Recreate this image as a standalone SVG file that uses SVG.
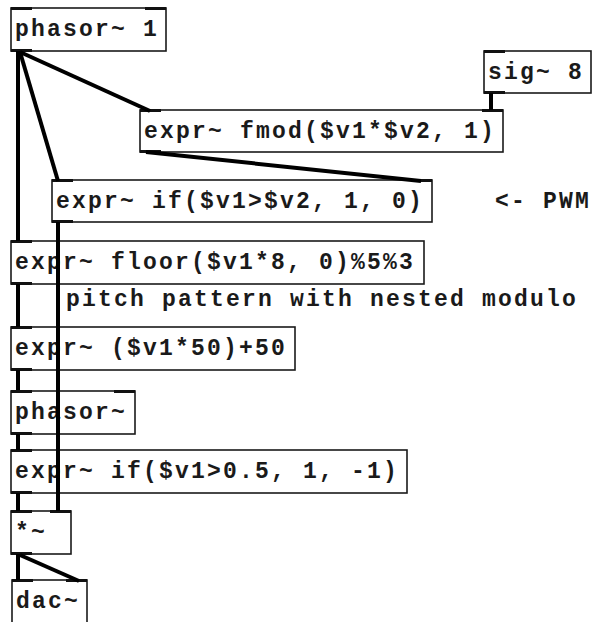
<svg xmlns="http://www.w3.org/2000/svg" width="593" height="622" viewBox="0 0 593 622">
<style>
.box{fill:#fff;stroke:#1a1a1a;stroke-width:1.6}
.io{fill:#111}
.t{font-family:"Liberation Mono","Courier New",monospace;font-weight:bold;font-size:23px;letter-spacing:2.2px;fill:#1a1a1a}
.c{stroke:#000;stroke-width:4;fill:none;stroke-linecap:butt}
</style>
<rect width="593" height="622" fill="#fff"/>
<g id="n_phasor1">
<rect class="box" x="11" y="8" width="155" height="43"/>
<rect class="io" x="11" y="7" width="21" height="3"/><rect class="io" x="145" y="7" width="21" height="3"/>
<rect class="io" x="11" y="49" width="21" height="3"/>
<text class="t" x="15" y="36">phasor~ 1</text>
</g>
<g id="n_sig8">
<rect class="box" x="484" y="51" width="107" height="42"/>
<rect class="io" x="484" y="50" width="21" height="3"/>
<rect class="io" x="484" y="91" width="21" height="3"/>
<text class="t" x="488" y="79">sig~ 8</text>
</g>
<g id="n_fmod">
<rect class="box" x="140" y="110" width="363" height="42"/>
<rect class="io" x="140" y="109" width="21" height="3"/><rect class="io" x="482" y="109" width="21" height="3"/>
<rect class="io" x="140" y="150" width="21" height="3"/>
<text class="t" x="144" y="138">expr~ fmod($v1*$v2, 1)</text>
</g>
<g id="n_if1">
<rect class="box" x="52" y="180" width="380" height="42"/>
<rect class="io" x="52" y="179" width="21" height="3"/><rect class="io" x="411" y="179" width="21" height="3"/>
<rect class="io" x="52" y="220" width="21" height="3"/>
<text class="t" x="56" y="208">expr~ if($v1>$v2, 1, 0)</text>
</g>
<g id="c_pwm">
<text class="t" x="495" y="208">&lt;- PWM</text>
</g>
<g id="n_floor">
<rect class="box" x="11" y="241" width="413" height="43"/>
<rect class="io" x="11" y="240" width="21" height="3"/>
<rect class="io" x="11" y="282" width="21" height="3"/>
<text class="t" x="15" y="269">expr~ floor($v1*8, 0)%5%3</text>
</g>
<g id="c_pitch">
<text class="t" x="66" y="306">pitch pattern with nested modulo</text>
</g>
<g id="n_scale">
<rect class="box" x="11" y="327" width="284" height="43"/>
<rect class="io" x="11" y="326" width="21" height="3"/>
<rect class="io" x="11" y="368" width="21" height="3"/>
<text class="t" x="15" y="355">expr~ ($v1*50)+50</text>
</g>
<g id="n_phasor">
<rect class="box" x="11" y="391" width="124" height="43"/>
<rect class="io" x="11" y="390" width="21" height="3"/><rect class="io" x="114" y="390" width="21" height="3"/>
<rect class="io" x="11" y="432" width="21" height="3"/>
<text class="t" x="15" y="419">phasor~</text>
</g>
<g id="n_if2">
<rect class="box" x="11" y="450" width="396" height="43"/>
<rect class="io" x="11" y="449" width="21" height="3"/>
<rect class="io" x="11" y="491" width="21" height="3"/>
<text class="t" x="15" y="478">expr~ if($v1>0.5, 1, -1)</text>
</g>
<g id="n_mul">
<rect class="box" x="11" y="511" width="60" height="43"/>
<rect class="io" x="11" y="510" width="21" height="3"/><rect class="io" x="50" y="510" width="21" height="3"/>
<rect class="io" x="11" y="552" width="21" height="3"/>
<text class="t" x="15" y="539">*~</text>
</g>
<g id="n_dac">
<rect class="box" x="12" y="580" width="75" height="44"/>
<rect class="io" x="12" y="579" width="21" height="3"/><rect class="io" x="66" y="579" width="21" height="3"/>
<text class="t" x="16" y="608">dac~</text>
</g>
<g id="connectors">
<line class="c" x1="18" y1="51" x2="18" y2="241"/>
<line class="c" x1="20" y1="52" x2="150" y2="111"/>
<line class="c" x1="20" y1="52" x2="58" y2="181"/>
<line class="c" x1="146" y1="152" x2="421" y2="181"/>
<line class="c" x1="491" y1="93" x2="491" y2="110"/>
<line class="c" x1="58" y1="222" x2="58" y2="511"/>
<line class="c" x1="18" y1="284" x2="18" y2="327"/>
<line class="c" x1="18" y1="370" x2="18" y2="390"/>
<line class="c" x1="18" y1="434" x2="18" y2="450"/>
<line class="c" x1="18" y1="493" x2="18" y2="511"/>
<line class="c" x1="18" y1="554" x2="18" y2="580"/>
<line class="c" x1="20" y1="555" x2="79" y2="581"/>
</g>
</svg>
